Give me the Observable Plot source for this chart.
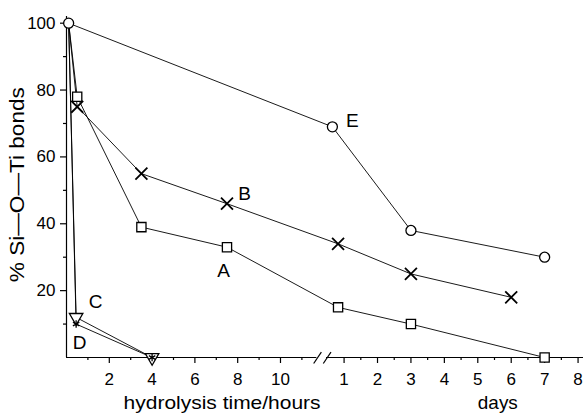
<!DOCTYPE html>
<html><head><meta charset="utf-8">
<script src="https://cdn.jsdelivr.net/npm/d3@7"></script>
<script src="https://cdn.jsdelivr.net/npm/@observablehq/plot@0.6"></script>
<style>body{margin:0;background:#fff} svg{display:block}</style>
</head><body><div id="chart"></div>
<script>
// ---- tick labels ----
const hourTicks = [2, 4, 6, 8, 10];
const hourMinor = [1, 3, 5, 7, 9, 11];
const dayTicks = [1, 2, 3, 4, 5, 6, 7, 8];
const dayMinor = [1.5, 2.5, 3.5, 4.5, 5.5, 6.5, 7.5];
const yTicks = [20, 40, 60, 80, 100];
const yMinor = [10, 30, 50, 70, 90];

// ---- series (hours part, days part) ----
const aHours = [0.1, 0.5, 3.5, 7.5], aHourVals = [100, 78, 39, 33];
const aDays = [0.82, 3, 7],          aDayVals = [15, 10, 0];
const bHours = [0.1, 0.5, 3.5, 7.5], bHourVals = [100, 75, 55, 46];
const bDays = [0.82, 3, 6],          bDayVals = [34, 25, 18];
const cHours = [0.1, 0.45, 4],       cHourVals = [100, 12, 0];
const dHours = [0.1, 0.45, 4],       dHourVals = [100, 10, 0];
const eHours = [0.1],                eHourVals = [100];
const eDays = [0.65, 3, 7],          eDayVals = [69, 38, 30];

// series labels: [name, unit, position, value]
const labels = [
  ["A", "h", 7.34, 26],
  ["B", "h", 8.32, 48.9],
  ["C", "h", 1.36, 16.6],
  ["D", "h", 0.61, 4.5],
  ["E", "d", 1.25, 70.9]
];

// ---- broken axis mapping (hours then days on one scale) ----
const breakAt = 12.0;
const dayOffset = 11.41, dayScale = 1.562;
const toX = (unit, v) => unit === "h" ? v : dayOffset + v * dayScale;
const xMax = 24.16;

function build(name, hs, hv, ds = [], dv = []) {
  return [
    ...hs.map((h, i) => ({series: name, X: toX("h", h), y: hv[i]})),
    ...ds.map((d, i) => ({series: name, X: toX("d", d), y: dv[i]}))
  ];
}
const A = build("A", aHours, aHourVals, aDays, aDayVals);
const B = build("B", bHours, bHourVals, bDays, bDayVals);
const C = build("C", cHours, cHourVals);
const D = build("D", dHours, dHourVals);
const E = build("E", eHours, eHourVals, eDays, eDayVals);
const all = [...A, ...B, ...C, ...D, ...E];

const majorX = [...hourTicks.map(h => toX("h", h)), ...dayTicks.map(d => toX("d", d))];
const majorLabel = new Map([...hourTicks.map(h => [toX("h", h), String(h)]), ...dayTicks.map(d => [toX("d", d), String(d)])]);
const minorX = [...hourMinor.map(h => toX("h", h)), ...dayMinor.map(d => toX("d", d))];

const font = "'Liberation Sans', Arial, Helvetica, sans-serif";
const notFirst = (d, i) => i > 0;

const chart = Plot.plot({
  width: 583,
  height: 416,
  marginLeft: 66,
  marginRight: 0,
  marginTop: 16,
  marginBottom: 59,
  style: {fontFamily: font, color: "black", background: "white"},
  x: {domain: [0, xMax]},
  y: {domain: [0, 102]},
  marks: [
    // axis lines
    Plot.ruleX([0], {y1: 0, y2: 102, stroke: "black", strokeWidth: 1.2}),
    Plot.ruleY([0], {x1: 0, x2: breakAt - 0.3, stroke: "black", strokeWidth: 1.2}),
    Plot.ruleY([0], {x1: breakAt + 0.15, x2: xMax, stroke: "black", strokeWidth: 1.2}),
    // break marks
    Plot.link([breakAt - 0.45, breakAt + 0.0], {x1: d => d, x2: d => d + 0.36, y1: -1.8, y2: 1.6, stroke: "black", strokeWidth: 1.2}),
    // axes
    Plot.axisX(majorX, {tickSize: 6, tickPadding: 9, fontSize: 17, tickFormat: x => majorLabel.get(x), label: null, strokeWidth: 1.2}),
    Plot.axisX(minorX, {tickSize: 3, tickFormat: () => "", label: null, strokeWidth: 1.2}),
    Plot.axisY(yTicks, {tickSize: 6, tickPadding: 5, fontSize: 17, label: null, strokeWidth: 1.2}),
    Plot.axisY(yMinor, {tickSize: 3, tickFormat: () => "", label: null, strokeWidth: 1.2}),
    // lines
    Plot.line(all, {x: "X", y: "y", z: "series", stroke: "black", strokeWidth: 0.9}),
    // markers
    Plot.dot(A, {x: "X", y: "y", filter: notFirst, symbol: "square", r: 5.2, fill: "white", stroke: "black", strokeWidth: 1.3}),
    Plot.dot(B, {x: "X", y: "y", filter: notFirst, symbol: "times", r: 5.5, stroke: "black", strokeWidth: 1.8}),
    Plot.dot(C, {x: "X", y: "y", filter: notFirst, symbol: "triangle", rotate: 180, r: 5, fill: "white", stroke: "black", strokeWidth: 1.3}),
    Plot.dot(D, {x: "X", y: "y", filter: notFirst, symbol: "asterisk", r: 3.5, stroke: "black", strokeWidth: 1.3}),
    Plot.dot(E, {x: "X", y: "y", symbol: "circle", r: 5, fill: "white", stroke: "black", strokeWidth: 1.3}),
    // series labels
    Plot.text(labels, {x: d => toX(d[1], d[2]), y: d => d[3], text: d => d[0], fontSize: 19, fill: "black"}),
    // axis titles
    Plot.text(["hydrolysis time/hours"], {x: 7.27, frameAnchor: "bottom", dy: 51, fontSize: 19, fill: "black", textAnchor: "middle", className: "xt1"}),
    Plot.text(["days"], {x: toX("d", 5.6), frameAnchor: "bottom", dy: 51, fontSize: 19, fill: "black", textAnchor: "middle", className: "xt2"}),
    Plot.text(["% Si—O—Ti bonds"], {frameAnchor: "left", y: 51.7, dx: -49, rotate: -90, fontSize: 20, fill: "black", textAnchor: "middle", lineAnchor: "middle", className: "yt"})
  ]
});
document.getElementById("chart").append(chart);
// stretch titles to the widths of the original lettering
const fit = {xt1: 197, xt2: 40, yt: 195};
for (const [cls, len] of Object.entries(fit)) {
  d3.select(chart).selectAll(`.${cls} text`).attr("textLength", len).attr("lengthAdjust", "spacingAndGlyphs");
}
</script>
</body></html>
